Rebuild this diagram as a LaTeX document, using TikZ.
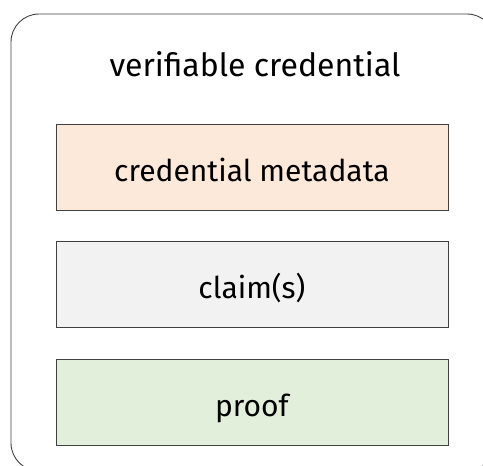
\documentclass[tikz,border=0pt]{standalone}
\usepackage{fontspec}
\setmainfont{Fira Sans}
\definecolor{metafill}{HTML}{FCE9DA}
\definecolor{claimfill}{HTML}{F2F2F2}
\definecolor{prooffill}{HTML}{E2EFDA}
\definecolor{edge}{HTML}{404040}
\tikzset{
  x=1pt, y=-1pt,
  part/.style={draw=edge, line width=0.9pt, minimum width=392pt, minimum height=86pt,
    inner sep=0pt, text height=29pt, text depth=0pt, anchor=north west,
    font=\fontsize{30}{36}\selectfont},
}
\begin{document}
\begin{tikzpicture}
  \useasboundingbox (0,0) rectangle (483,466);
  \begin{scope}
    \clip (0,0) rectangle (483,466);
    \draw[edge, line width=0.9pt, rounded corners=28pt] (11,14) rectangle (495,471);
  \end{scope}
  \node[font=\fontsize{32}{38}\selectfont, anchor=base] (title) at (255,76) {verifiable credential};
  \node[part, fill=metafill] (meta) at (55.5,123.5) {credential metadata};
  \node[part, fill=claimfill] (claims) at (55.5,240.5) {claim(s)};
  \node[part, fill=prooffill] (proof) at (55.5,358.5) {proof};
\end{tikzpicture}
\end{document}
